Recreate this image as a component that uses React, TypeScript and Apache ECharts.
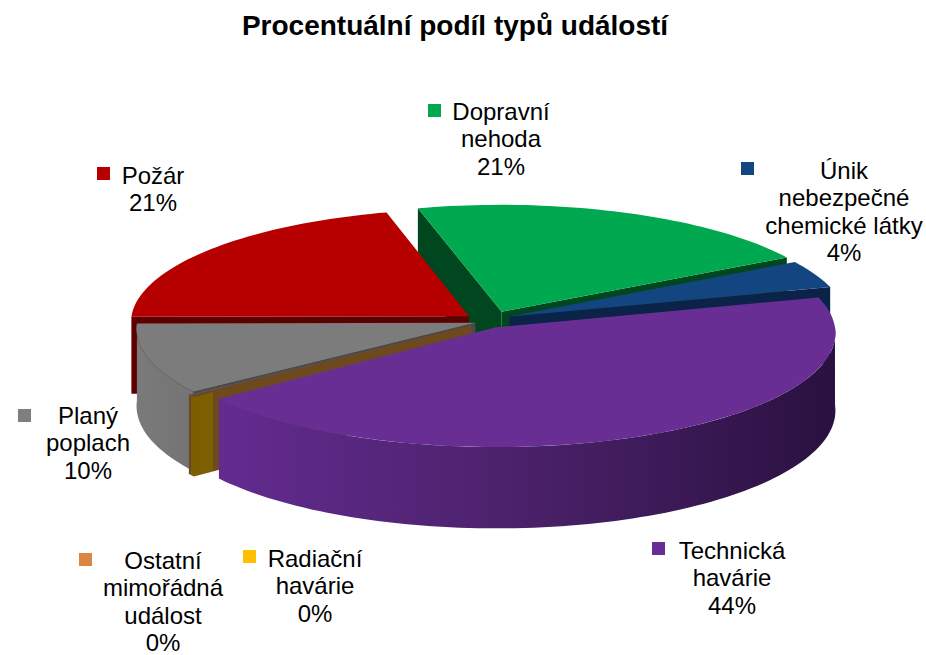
import React, { useEffect, useRef } from "react";
import * as echarts from "echarts";

const chartTitle = "Procentuální podíl typů událostí";
const categories = ["Dopravní nehoda", "Únik nebezpečné chemické látky", "Technická havárie", "Radiační havárie", "Ostatní mimořádná událost", "Planý poplach", "Požár"];
const seriesValues = [21, 4, 44, 0.2, 0.2, 10, 21];
const percentLabels = ["21%", "4%", "44%", "0%", "0%", "10%", "21%"];
const labelLines = [
  ["Dopravní", "nehoda"],
  ["Únik", "nebezpečné", "chemické látky"],
  ["Technická", "havárie"],
  ["Radiační", "havárie"],
  ["Ostatní", "mimořádná", "událost"],
  ["Planý", "poplach"],
  ["Požár"],
];

// Styles, per category index
const keyColors = ["#00a84f", "#134580", "#692e94", "#ffc000", "#dc8644", "#7f7f7f", "#b60000"];
const topColors = ["#00a84f", "#134580", "#692e94", "#6e491d", "#555555", "#7c7c7c", "#b60000"];
const sideColors = ["#00471f", "#0b2348", "#5a2885", "#7c5f00", "#6e491d", "#4a4a4a", "#5c0000"];
const drawOrder = [0, 1, 6, 5, 4, 3, 2];

// Label layout: text centre x, first line y, key x, key y
const labelLayout = [
  [501, 111, 428, 104],
  [844, 170, 741, 162],
  [732, 550, 652, 542],
  [315, 558, 243, 550],
  [163, 560, 79, 553],
  [88, 415, 18, 409],
  [153, 175, 97, 167],
];

// Projection of the tilted pie
const START_ANGLE = 345;
const CX = 489, CY = 320, RX = 338, RY = 113, PERSPECTIVE = 0.05, EXPLODE_U = 0.065, EXPLODE_V = 0.08, DEPTH = 77;
const explodeScaleU = [1.5, 1, 0.7, 1, 1, 0.65, 1.15];
const explodeScaleV = [1, 1, 0.9, 1, 1, 1, 0.7];
const total = seriesValues.reduce((a, b) => a + b, 0);
const rad = (d: number) => (d * Math.PI) / 180;

function sliceAngles(i: number) {
  let a = START_ANGLE;
  for (let k = 0; k < i; k++) a += (seriesValues[k] / total) * 360;
  return [a, a + (seriesValues[i] / total) * 360];
}
function project(u: number, v: number, down = 0) {
  const w = 1 + PERSPECTIVE * v;
  return [CX + (RX * u) / w, CY - (RY * v) / w + (down ? DEPTH / w : 0)];
}

function renderSlice(params: any) {
  const order = params.dataIndex;
  const i = drawOrder[order];
  const [a0, a1] = sliceAngles(i);
  const mid = rad((a0 + a1) / 2);
  const eu = EXPLODE_U * explodeScaleU[i] * Math.sin(mid);
  const ev = EXPLODE_V * explodeScaleV[i] * Math.cos(mid);
  const rim = (d: number, down: number) => project(eu + Math.sin(rad(d)), ev + Math.cos(rad(d)), down);
  const arc = (from: number, to: number, down: number) => {
    const steps = Math.max(2, Math.ceil((to - from) / 1.5));
    const pts: number[][] = [];
    for (let s = 0; s <= steps; s++) pts.push(rim(from + ((to - from) * s) / steps, down));
    return pts;
  };
  const apexTop = project(eu, ev, 0);
  const apexBottom = project(eu, ev, 1);
  const children: any[] = [];
  let z = order * 10;
  const add = (points: number[][], fill: any) =>
    children.push({ type: "polygon", z2: z++, shape: { points }, style: { fill, stroke: "none" } });

  let startFill: any = sideColors[i];
  if (i === 3) {
    startFill = new echarts.graphic.LinearGradient(0, 0, 1, 0, [
      { offset: 0, color: "#7c5f00" },
      { offset: 0.068, color: "#7c5f00" },
      { offset: 0.068, color: "#6e491d" },
      { offset: 1, color: "#6e491d" },
    ]);
  }
  if (Math.sin(rad(a0)) < 0) add([apexTop, rim(a0, 0), rim(a0, 1), apexBottom], startFill);
  if (Math.sin(rad(a1)) > 0) add([apexTop, rim(a1, 0), rim(a1, 1), apexBottom], sideColors[i]);

  let outerFill: any = sideColors[i];
  if (i === 2) {
    outerFill = new echarts.graphic.LinearGradient(0, 0, 1, 0, [
      { offset: 0, color: "#632b90" },
      { offset: 0.5, color: "#4a2169" },
      { offset: 1, color: "#2a1140" },
    ]);
  } else if (i === 5) {
    outerFill = new echarts.graphic.LinearGradient(0, 0, 1, 0, [
      { offset: 0, color: "#7a7a7a" },
      { offset: 1, color: "#747474" },
    ]);
  }
  // The rim wall shows only on the front half of the pie (450..630 degrees in the running angle)
  const lo = Math.max(a0, 450);
  const hi = Math.min(a1, 630);
  if (hi > lo) add([...arc(lo, hi, 0), ...arc(lo, hi, 1).reverse()], outerFill);
  add([apexTop, ...arc(a0, a1, 0)], topColors[i]);
  return { type: "group", children };
}

function buildGraphic() {
  const elements: any[] = [];
  categories.forEach((_, i) => {
    const [tx, ty, kx, ky] = labelLayout[i];
    elements.push({ type: "rect", shape: { x: kx, y: ky, width: 13, height: 13 }, style: { fill: keyColors[i] } });
    [...labelLines[i], percentLabels[i]].forEach((line, n) => {
      elements.push({
        type: "text",
        x: tx,
        y: ty + n * 27.6,
        style: {
          text: line,
          fill: "#000000",
          fontFamily: "Liberation Sans",
          fontSize: 24,
          align: "center",
          verticalAlign: "middle",
        },
      });
    });
  });
  return elements;
}

export default function App() {
  const ref = useRef<HTMLDivElement>(null);
  useEffect(() => {
    const chart = echarts.init(ref.current!, null, { renderer: "svg" });
    chart.setOption({
      animation: false,
      backgroundColor: "#ffffff",
      title: {
        text: chartTitle,
        left: 450,
        top: 6,
        textAlign: "center",
        textStyle: { fontFamily: "Liberation Sans", fontWeight: "bold", fontSize: 28, color: "#000000" },
      },
      series: [
        {
          type: "custom",
          coordinateSystem: "none",
          silent: true,
          clip: false,
          data: drawOrder.map((i) => ({ name: categories[i], value: seriesValues[i] })),
          renderItem: renderSlice,
        },
      ],
      graphic: { elements: buildGraphic() },
    });
    return () => chart.dispose();
  }, []);
  return <div ref={ref} style={{ position: "absolute", left: 0, top: 0, width: 926, height: 655 }} />;
}
